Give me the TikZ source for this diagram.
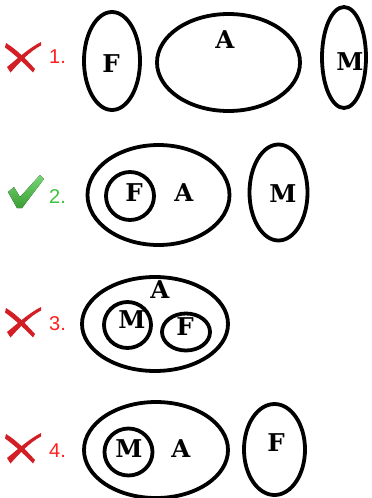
\documentclass[tikz,border=0pt]{standalone}
\usepackage{fontspec}
\newfontfamily\numfont{Liberation Sans}
\newfontfamily\letfont{DejaVu Serif}
\begin{document}
\begin{tikzpicture}[x=1pt,y=-1pt]
\definecolor{wrongred}{HTML}{FF1F1F}
\definecolor{crossred}{HTML}{D21E24}
\definecolor{okgreen}{HTML}{3CC43C}
\definecolor{checkgreen}{HTML}{3A9E32}
\definecolor{faint}{HTML}{EEF6F3}
\tikzset{
  set/.style={draw=black, line width=3.8pt},
  lab/.style={inner sep=0pt, font=\letfont\bfseries\fontsize{24.5}{24.5}\selectfont},
  num/.style={anchor=base west, inner sep=0pt, font=\numfont\fontsize{20}{20}\selectfont},
  xmark/.pic={
    \fill[crossred] (0,1) .. controls (10,7) and (20,17) .. (29,27) -- (27,30.5) .. controls (18,21) and (8,12) .. (-1,5.5) -- cycle;
    \fill[crossred] (35,0) .. controls (23,6) and (11,17) .. (1,25) -- (4.5,30.5) .. controls (13,21) and (24,9) .. (35,3.5) -- cycle;
  }
}
\useasboundingbox (0,0) rectangle (372,498);
\begin{scope}
\clip (0,0) rectangle (372,498);
\fill[faint] (394,473) circle (22);
\end{scope}

% row 1
\pic at (6,42) {xmark};
\node[num, text=wrongred] (n1) at (49,63) {1.};
\draw[set] (112,61) ellipse (28 and 49);
\draw[set] (228.5,62.5) ellipse (71.5 and 48.5);
\draw[set] (344,57.5) ellipse (22 and 50.5);
\node[lab] (f1) at (111,64) {F};
\node[lab] (a1) at (225,40) {A};
\node[lab] (m1) at (350,62) {M};

% row 2
\fill[top color=okgreen!70!white, bottom color=checkgreen]
  (8,192) -- (14,187) -- (20,197) -- (40,175) -- (44,179) -- (22,208) -- (17,208) -- cycle;
\node[num, text=okgreen] (n2) at (49,203) {2.};
\draw[set] (158.5,195) ellipse (71 and 50);
\draw[set] (130,196) ellipse (24 and 24);
\draw[set] (278.5,192.5) ellipse (29 and 48);
\node[lab] (f2) at (134,193) {F};
\node[lab] (a2) at (184,193) {A};
\node[lab] (m2) at (283,194) {M};

% row 3
\pic at (6,307) {xmark};
\node[num, text=wrongred] (n3) at (49,330) {3.};
\draw[set] (155,324) ellipse (73 and 47);
\draw[set] (127.5,325) ellipse (23.5 and 23);
\draw[set] (186,332) ellipse (24 and 18.5);
\node[lab] (a3) at (160,290) {A};
\node[lab] (m3) at (132,320) {M};
\node[lab] (f3) at (185,327) {F};

% row 4
\pic at (6,433) {xmark};
\node[num, text=wrongred] (n4) at (49,457) {4.};
\draw[set] (156,450) ellipse (72 and 48);
\draw[set] (128.5,452) ellipse (24 and 23.5);
\draw[set] (274.5,449.5) ellipse (30.5 and 45.5);
\node[lab] (m4) at (129,449) {M};
\node[lab] (a4) at (181,449) {A};
\node[lab] (f4) at (276,443) {F};
\end{tikzpicture}
\end{document}
